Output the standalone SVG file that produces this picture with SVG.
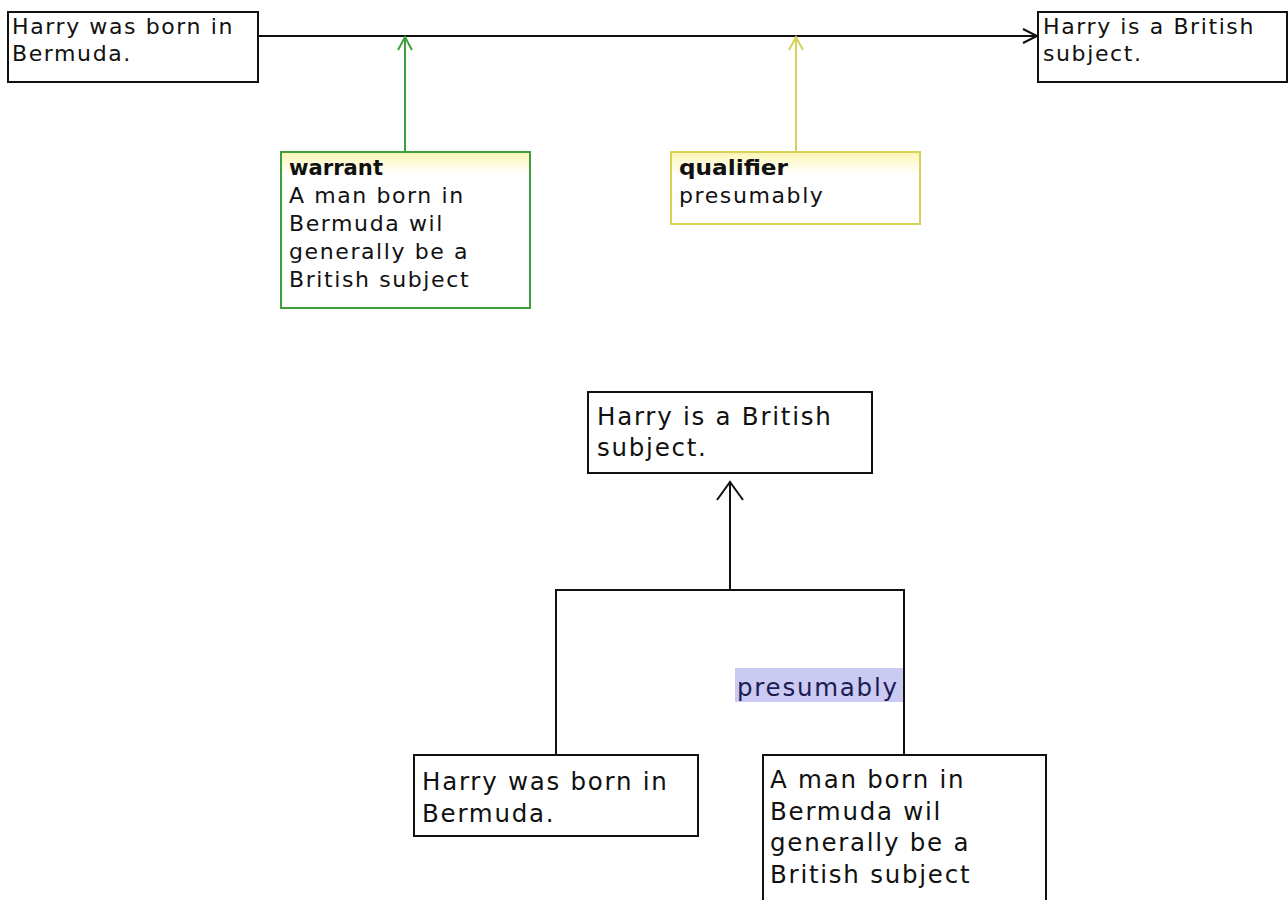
<svg xmlns="http://www.w3.org/2000/svg" width="1288" height="900" viewBox="0 0 1288 900">
<defs>
<style>
.box{fill:#fff;stroke:#111;stroke-width:2}
.t{font-family:"DejaVu Sans",Verdana,sans-serif;fill:#111}
.s{font-size:22px;letter-spacing:1.6px}
.L{font-size:24.5px;letter-spacing:1.75px}
.b{font-weight:bold;letter-spacing:0}
.ln{fill:none;stroke-width:2}
</style>
<linearGradient id="gy" x1="0" y1="0" x2="0" y2="1">
<stop offset="0" stop-color="#fdf6b8"/>
<stop offset="1" stop-color="#ffffff"/>
</linearGradient>
</defs>
<rect width="1288" height="900" fill="#fff"/>
<g id="connectors">
<path class="ln" stroke="#111" d="M258 36H1037M1023 29L1037 36L1023 43"/>
<path class="ln" stroke="#3e9e3e" d="M405 152V37M398 50L405 37L412 50"/>
<path class="ln" stroke="#d4d25a" d="M796 152V37M789 50L796 37L803 50"/>
<path class="ln" stroke="#111" d="M730 590V482M717 500L730 482L743 500M556 755V590H904V755"/>
</g>
<g id="n-top-born">
<rect class="box" x="8" y="12" width="250" height="70"/>
<text class="t s" x="12" y="34">Harry was born in</text>
<text class="t s" x="12" y="61">Bermuda.</text>
</g>
<g id="n-top-subject">
<rect class="box" x="1038" y="12" width="249" height="70"/>
<text class="t s" x="1043" y="34">Harry is a British</text>
<text class="t s" x="1043" y="61">subject.</text>
</g>
<g id="n-warrant">
<rect x="281" y="152" width="249" height="156" fill="#fff" stroke="#3e9e3e" stroke-width="2"/>
<rect x="282" y="153" width="247" height="22" fill="url(#gy)"/>
<text class="t s b" x="289" y="175" textLength="94" lengthAdjust="spacingAndGlyphs">warrant</text>
<text class="t s" x="289" y="203">A man born in</text>
<text class="t s" x="289" y="231">Bermuda wil</text>
<text class="t s" x="289" y="259">generally be a</text>
<text class="t s" x="289" y="287">British subject</text>
</g>
<g id="n-qualifier">
<rect x="671" y="152" width="249" height="72" fill="#fff" stroke="#d4d25a" stroke-width="2"/>
<rect x="672" y="153" width="247" height="22" fill="url(#gy)"/>
<text class="t s b" x="679" y="175" textLength="109" lengthAdjust="spacingAndGlyphs">qualifier</text>
<text class="t s" x="679" y="203">presumably</text>
</g>
<g id="n-bottom-subject">
<rect class="box" x="588" y="392" width="284" height="81"/>
<text class="t L" x="597" y="425">Harry is a British</text>
<text class="t L" x="597" y="456">subject.</text>
</g>
<g id="n-label">
<rect x="735" y="668" width="168" height="34" fill="#cacaf2"/>
<text class="t L" x="737" y="696" style="fill:#1c1c52">presumably</text>
</g>
<g id="n-bottom-born">
<rect class="box" x="414" y="755" width="284" height="81"/>
<text class="t L" x="422" y="790">Harry was born in</text>
<text class="t L" x="422" y="822">Bermuda.</text>
</g>
<g id="n-bottom-warrant">
<rect class="box" x="763" y="755" width="283" height="150"/>
<text class="t L" x="770" y="788">A man born in</text>
<text class="t L" x="770" y="820">Bermuda wil</text>
<text class="t L" x="770" y="851">generally be a</text>
<text class="t L" x="770" y="883">British subject</text>
</g>
</svg>
